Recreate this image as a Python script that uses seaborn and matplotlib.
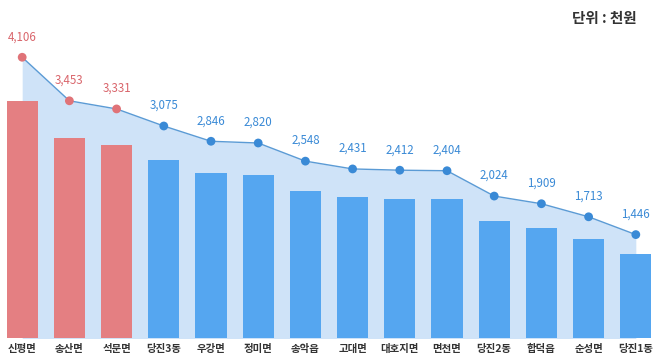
import numpy as np
import pandas as pd
import matplotlib
matplotlib.use("Agg")
import matplotlib.pyplot as plt
import seaborn as sns

# 지역별 값 (단위: 천원)
regions = ['신평면', '송산면', '석문면', '당진3동', '우강면', '정미면', '송악읍',
           '고대면', '대호지면', '면천면', '당진2동', '합덕읍', '순성면', '당진1동']
values = [4106, 3453, 3331, 3075, 2846, 2820, 2548, 2431, 2412, 2404, 2024, 1909, 1713, 1446]
groups = ['top'] * 3 + ['rest'] * 11

bar_colors = {'top': '#e47f82', 'rest': '#55a6f0'}
label_colors = {'top': '#d9656b', 'rest': '#3a8ad6'}
dot_colors = {'top': '#e07378', 'rest': '#3a8ad6'}

sns.set_theme(style='white')
plt.rcParams['font.family'] = ['Noto Sans CJK KR', 'DejaVu Sans']

df = pd.DataFrame({'region': regions, 'value': values, 'group': groups})

fig = plt.figure(figsize=(6.58, 3.6), dpi=100)
ax = fig.add_axes([0, 22 / 360, 1, 318 / 360])
ax2 = ax.twinx()

# 배경 영역 + 선
x = np.arange(len(regions))
ax2.fill_between(x, values, -200, color='#cfe3f8', lw=0, zorder=1)
ax2.plot(x, values, color='#5b9bd5', lw=1, zorder=2)
for xi, v, g in zip(x, values, groups):
    ax2.scatter(xi, v, s=40, color=dot_colors[g], zorder=3, edgecolor='none')
    ax2.text(xi, v + 210, f'{v:,}', ha='center', va='bottom', fontsize=8.3,
             color=label_colors[g])
ax2.set_ylim(-105, 4665)

# 막대
sns.barplot(data=df, x='region', y='value', hue='group', palette=bar_colors,
            dodge=False, width=0.66, ax=ax, legend=False, saturation=1,
            linewidth=0, edgecolor='none', zorder=4)
ax.set_ylim(0, 5500)
ax.set_xlim(-0.47, 13.47)
ax.set_zorder(ax2.get_zorder() + 1)
ax.patch.set_visible(False)

ax.set_xlabel('')
ax.set_ylabel('')
ax.set_yticks([])
ax2.set_yticks([])
ax.tick_params(axis='x', length=0, pad=4)
for t in ax.get_xticklabels():
    t.set_fontsize(7.5)
    t.set_fontweight('bold')
    t.set_color('#333333')
for a in (ax, ax2):
    for s in a.spines.values():
        s.set_visible(False)

fig.text(0.967, 0.95, '단위 : 천원', ha='right', va='center', fontsize=10.5,
         fontweight='bold', color='#333333')

fig.savefig('out.png', dpi=100)
